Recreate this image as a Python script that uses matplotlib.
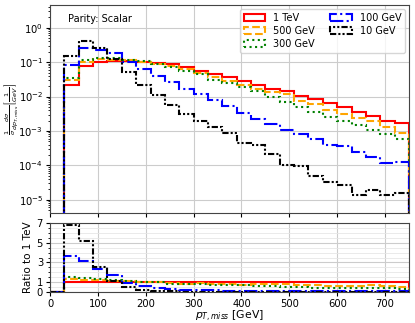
import numpy as np
import matplotlib
matplotlib.use("Agg")
import matplotlib.pyplot as plt
from matplotlib.ticker import MultipleLocator

bin_edges = np.arange(0, 751, 30)

labels = ["1 TeV", "500 GeV", "300 GeV", "100 GeV", "10 GeV"]

val_1tev = [0, 0.022, 0.079, 0.10, 0.107, 0.105, 0.10, 0.093, 0.087, 0.072, 0.055, 0.046,
            0.036, 0.028, 0.022, 0.017, 0.0142, 0.0103, 0.0083, 0.0063, 0.0049, 0.0035,
            0.0027, 0.0020, 0.00166]
val_500 = [0, 0.030, 0.10, 0.12, 0.118, 0.112, 0.103, 0.09, 0.078, 0.062, 0.048, 0.038,
           0.028, 0.021, 0.017, 0.0135, 0.0115, 0.0076, 0.0059, 0.0041, 0.0032, 0.0023,
           0.0019, 0.0013, 0.00089]
val_300 = [0, 0.034, 0.115, 0.13, 0.128, 0.118, 0.105, 0.09, 0.074, 0.056, 0.044, 0.031,
           0.024, 0.019, 0.0145, 0.0098, 0.0071, 0.0050, 0.0036, 0.0026, 0.0019, 0.0015,
           0.00107, 0.00081, 0.00057]
val_100 = [0, 0.08, 0.25, 0.23, 0.18, 0.10, 0.062, 0.040, 0.027, 0.017, 0.0118, 0.0078,
           0.0052, 0.0034, 0.0022, 0.0016, 0.00105, 0.0008, 0.0006, 0.00039, 0.00036,
           0.00024, 0.00017, 0.000115, 0.000122]
val_10 = [0, 0.15, 0.41, 0.25, 0.12, 0.053, 0.022, 0.011, 0.0057, 0.0032, 0.0020, 0.00127,
          0.00085, 0.00044, 0.00039, 0.00022, 0.0001, 0.000095, 5e-5, 3.3e-5, 2.6e-5,
          1.4e-5, 1.9e-5, 1.4e-5, 1.6e-5]

series = [val_1tev, val_500, val_300, val_100, val_10]
colors = ["red", "orange", "green", "blue", "black"]
styles = ["-", "--", ":", "-.", (0, (3, 1, 1, 1, 1, 1))]

W, H = 415, 323
fig = plt.figure(figsize=(W / 100, H / 100), dpi=100)
ax1 = fig.add_axes([50 / W, 1 - 213 / H, 359 / W, 208 / H])
ax2 = fig.add_axes([50 / W, 1 - 292 / H, 359 / W, 69 / H], sharex=ax1)

centers = 0.5 * (bin_edges[:-1] + bin_edges[1:])
ref = np.array(val_1tev, dtype=float)
for vals, c, ls, lab in zip(series, colors, styles, labels):
    v = np.array(vals, dtype=float)
    ax1.hist(centers, bins=bin_edges, weights=v, histtype="step", color=c,
             linestyle=ls, linewidth=1.5, label=lab, log=True)
    ratio = np.divide(v, ref, out=np.zeros_like(v), where=ref > 0)
    ax2.hist(centers, bins=bin_edges, weights=ratio, histtype="step", color=c,
             linestyle=ls, linewidth=1.5)

ax1.set_yscale("log", nonpositive="clip")
ax1.set_ylim(4.1e-6, 4.6)
ax1.set_xlim(0, 750)
ax1.grid(True, color="#cccccc", linewidth=0.8)
ax1.set_axisbelow(True)
ax1.tick_params(labelbottom=False, labelsize=7.2, length=3, pad=2)
ax1.tick_params(which="minor", length=1.8)
ax1.set_ylabel(r"$\frac{1}{\sigma}\frac{d\sigma}{dp_{T,miss}}\left[\frac{1}{GeV}\right]$",
               fontsize=6.6)
ax1.yaxis.set_label_coords(-0.084, 0.5)
ax1.text(0.05, 0.955, "Parity: Scalar", transform=ax1.transAxes, fontsize=7,
         va="top", ha="left")
ax1.legend(loc="upper right", ncol=2, fontsize=7, handlelength=2.2,
           columnspacing=1.6, labelspacing=0.3, framealpha=0.8,
           borderaxespad=0.4)

ax2.set_ylim(0, 7)
ax2.set_yticks([0, 1, 3, 5, 7])
ax2.yaxis.set_minor_locator(MultipleLocator(0.5))
ax2.set_xticks([0, 100, 200, 300, 400, 500, 600, 700])
ax2.grid(True, which="major", color="#cccccc", linewidth=0.8)
ax2.grid(True, which="minor", axis="y", color="#e6e6e6", linewidth=0.6)
ax2.set_axisbelow(True)
ax2.tick_params(labelsize=7.2, length=3, pad=2)
ax2.tick_params(which="minor", length=1.8)
ax2.set_ylabel("Ratio to 1 TeV", fontsize=7.5, labelpad=3)
ax2.set_xlabel(r"$p_{T,miss}$ [GeV]", fontsize=7.8, labelpad=0)

for a in (ax1, ax2):
    for s in a.spines.values():
        s.set_color("#444444")

fig.savefig("out.png", dpi=100)
